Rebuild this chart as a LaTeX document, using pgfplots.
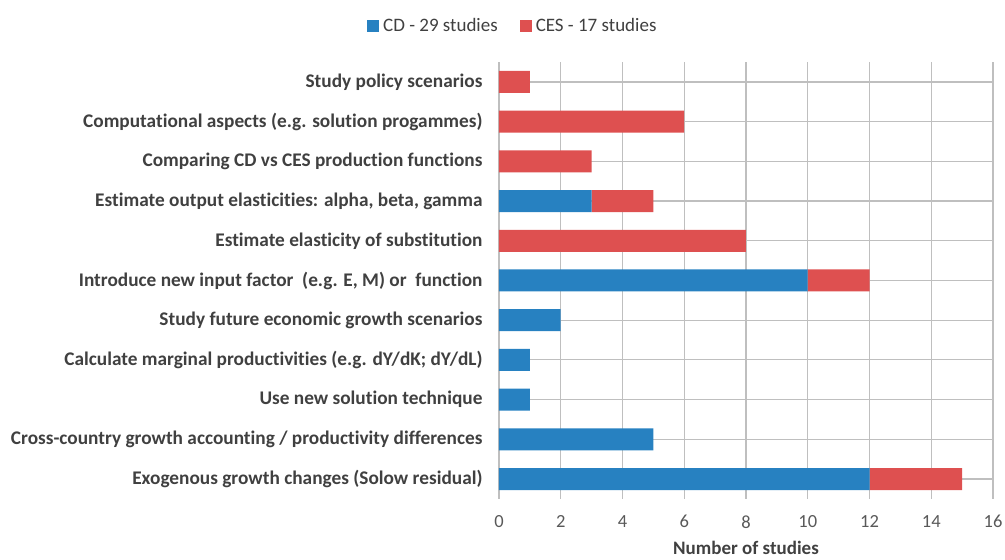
\documentclass[border=0pt]{standalone}
\usepackage{fontspec}
\setmainfont{Carlito}[Ligatures=NoCommon]
\usepackage{pgfplots}
\pgfplotsset{compat=1.18}
\definecolor{cdblue}{HTML}{2781C1}
\definecolor{cesred}{HTML}{DE5050}
\definecolor{txt}{HTML}{404040}
\definecolor{tick}{HTML}{595959}
\definecolor{grid}{HTML}{D9D9D9}
\begin{document}
\begin{tikzpicture}
\useasboundingbox (0pt,0pt) rectangle (1005pt,560pt);
\begin{axis}[
  at={(499pt,61.15pt)}, anchor=south west,
  scale only axis, width=494pt, height=436.7pt,
  xbar stacked, bar width=22pt,
  xmin=0, xmax=16, xtick={0,2,...,16},
  ymin=-0.5, ymax=10.5, ytick={0,...,10},
  yticklabels={
    Exogenous growth changes (Solow residual),
    Cross-country growth accounting / productivity differences,
    Use new solution technique,
    Calculate marginal productivities (e.g. dY/dK; dY/dL),
    Study future economic growth scenarios,
    {Introduce new input factor\ \ (e.g. E, M) or\ \ function},
    Estimate elasticity of substitution,
    {Estimate output elasticities: alpha, beta, gamma},
    Comparing CD vs CES production functions,
    Computational aspects (e.g. solution progammes)\ ,
    Study policy scenarios},
  yticklabel style={font=\fontsize{19.3}{22}\selectfont\bfseries, text=txt, xshift=-13pt},
  xticklabel style={font=\fontsize{18.5}{22}\selectfont, text=tick, yshift=-13pt},
  /pgf/number format/assume math mode=true,
  axis line style={draw=none},
  major tick length=0pt,
  xmajorgrids, major grid style={grid, line width=1.2pt},
  xlabel={Number of studies},
  xlabel style={font=\fontsize{19}{22}\selectfont\bfseries, text=txt, yshift=-6pt},
  legend columns=2,
  legend style={at={(axis description cs:0.028,1.0828)}, anchor=center, draw=none,
    font=\fontsize{19}{22}\selectfont, text=txt,
    /tikz/every even column/.append style={column sep=20pt},
    /tikz/every odd column/.append style={column sep=2pt}},
  legend image code/.code={\fill (0pt,-6pt) rectangle (12pt,6pt);},
  clip=false,
]
\addplot[fill=cdblue, draw=none] coordinates {(12,0) (5,1) (1,2) (1,3) (2,4) (10,5) (0,6) (3,7) (0,8) (0,9) (0,10)};
\addplot[fill=cesred, draw=none] coordinates {(3,0) (0,1) (0,2) (0,3) (0,4) (2,5) (8,6) (2,7) (3,8) (6,9) (1,10)};
\legend{CD - 29 studies, CES - 17 studies}
\end{axis}
\end{tikzpicture}
\end{document}
